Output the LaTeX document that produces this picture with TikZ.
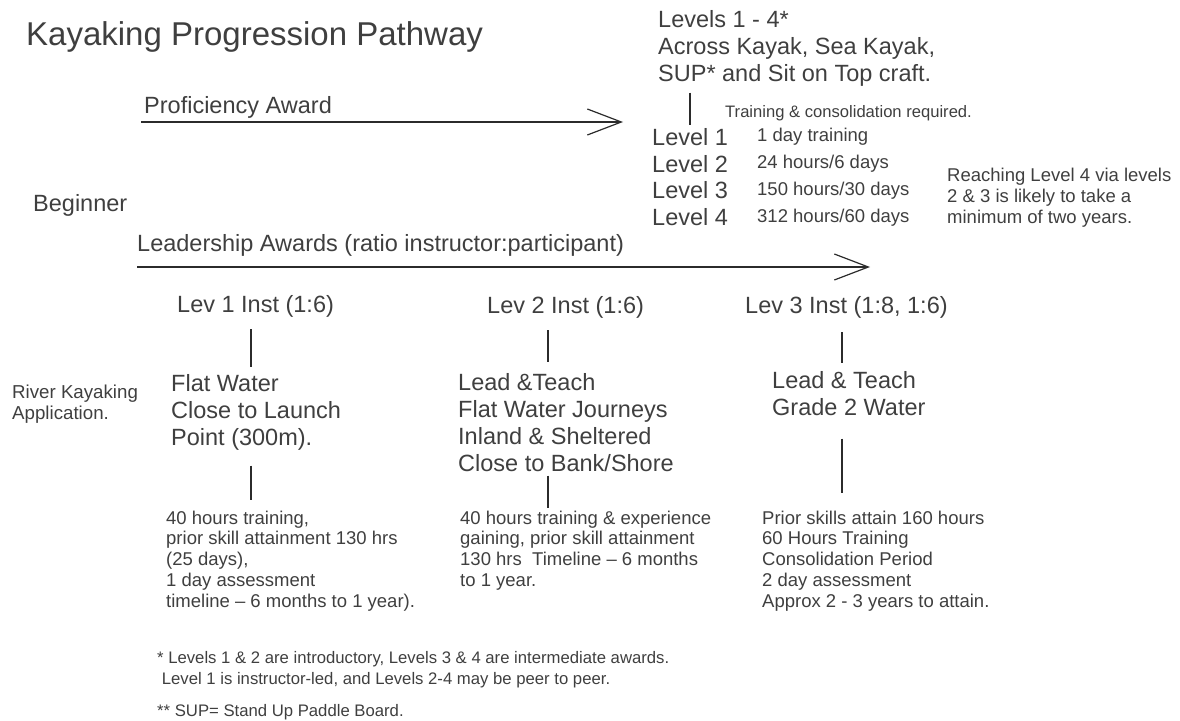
\documentclass[tikz,border=0pt]{standalone}
\usepackage{fontspec}
\setmainfont{Liberation Sans}
\definecolor{kpText}{HTML}{3F3F3F}
\definecolor{kpLine}{HTML}{2B2B2B}
\usetikzlibrary{arrows.meta}

\tikzset{
  kptext/.style={inner sep=0pt, text=kpText, align=left,
    execute at begin node=\strut, execute at end node=\strut},
  kpbig/.style={kptext, font=\fontsize{23.5}{27}\selectfont},
  kpsmall/.style={kptext, font=\fontsize{18.5}{20.8}\selectfont},
  kptiny/.style={kptext, font=\fontsize{16.6}{19}\selectfont},
  link/.style={draw=kpLine, line width=1.2pt},
  pathway/.style={link, -{Straight Barb[length=34pt, width=26pt]}}
}

\begin{document}
\begin{tikzpicture}[x=1pt, y=-1pt]
  \useasboundingbox (0,0) rectangle (1180,720);
  \coordinate (stem0) at (690,0);
  \coordinate (stem1) at (251,0);
  \coordinate (stem2) at (548,0);
  \coordinate (stem3) at (842,0);

  \node[kptext, font=\fontsize{33}{38}\selectfont, anchor=base west] (title) at (26,45) {Kayaking Progression Pathway};

  % proficiency route
  \node[kpbig, anchor=base west] (prof) at (144,113) {Proficiency Award};
  \coordinate (profstart) at (141,122);
  \coordinate (profend) at (623,122);
  \draw[pathway] (profstart) -- (profend);
  \node[kpbig, anchor=north west] (levels) at (658,10.1) {Levels 1 - 4*\\Across Kayak, Sea Kayak,\\SUP* and Sit on Top craft.};
  \node[kptiny, anchor=base west] (consol) at (725,117) {Training \& consolidation required.};
  \node[kpbig, font=\fontsize{23.5}{26.7}\selectfont, anchor=north west] (lvnames) at (652,128.3) {Level 1\\Level 2\\Level 3\\Level 4};
  \node[kpsmall, font=\fontsize{18.5}{26.7}\selectfont, anchor=north west] (lvhours) at (757,128.3) {1 day training\\24 hours/6 days\\150 hours/30 days\\312 hours/60 days};
  \draw[link, shorten <=3pt, shorten >=3pt] (levels.south -| stem0) -- (lvnames.north -| stem0);
  \node[kpsmall, font=\fontsize{18.5}{21}\selectfont, anchor=north west] (reach) at (947,168.3) {Reaching Level 4 via levels\\2 \& 3 is likely to take a\\minimum of two years.};

  % leadership route
  \node[kpbig, anchor=base west] (beginner) at (33,211) {Beginner};
  \node[kpbig, anchor=base west] (leader) at (137,251) {Leadership Awards (ratio instructor:participant)};
  \coordinate (leadstart) at (137,267);
  \coordinate (leadend) at (870,267);
  \draw[pathway] (leadstart) -- (leadend);

  \node[kpbig, anchor=base west] (inst1) at (177,312) {Lev 1 Inst (1:6)};
  \node[kpbig, anchor=base west] (inst2) at (487,313) {Lev 2 Inst (1:6)};
  \node[kpbig, anchor=base west] (inst3) at (745,313) {Lev 3 Inst (1:8, 1:6)};

  \node[kpsmall, font=\fontsize{18.7}{21}\selectfont, anchor=north west] (river) at (12,384.3) {River Kayaking\\Application.};
  \node[kpbig, anchor=north west] (water1) at (171,374.1) {Flat Water\\Close to Launch\\Point (300m).};
  \node[kpbig, anchor=north west] (water2) at (458,373.1) {Lead \&Teach\\Flat Water Journeys\\Inland \& Sheltered\\Close to Bank/Shore};
  \node[kpbig, anchor=north west] (water3) at (772,371.1) {Lead \& Teach\\Grade 2 Water};

  \node[kpsmall, anchor=north west] (train1) at (166,510.4) {40 hours training,\\prior skill attainment 130 hrs\\(25 days),\\1 day assessment\\timeline – 6 months to 1 year).};
  \node[kpsmall, anchor=north west] (train2) at (460,510.4) {40 hours training \& experience\\gaining, prior skill attainment\\130 hrs\ \ Timeline – 6 months\\to 1 year.};
  \node[kpsmall, anchor=north west] (train3) at (762,510.4) {Prior skills attain 160 hours\\60 Hours Training\\Consolidation Period\\2 day assessment\\Approx 2 - 3 years to attain.};

  \draw[link, shorten <=9pt, shorten >=7pt] (inst1.south -| stem1) -- (water1.north -| stem1);
  \draw[link, shorten <=12pt, shorten >=10pt] (water1.south -| stem1) -- (train1.north -| stem1);
  \draw[link, shorten <=9pt, shorten >=11pt] (inst2.south -| stem2) -- (water2.north -| stem2);
  \draw[link, shorten <=-4pt, shorten >=2pt] (water2.south -| stem2) -- (train2.north -| stem2);
  \draw[link, shorten <=11pt, shorten >=8pt] (inst3.south -| stem3) -- (water3.north -| stem3);
  \draw[link, shorten <=15pt, shorten >=17pt] (water3.south -| stem3) -- (train3.north -| stem3);

  % footnotes
  \node[kptext, font=\fontsize{16.7}{20.5}\selectfont, anchor=north west] (note1) at (157,651.6) {* Levels 1 \& 2 are introductory, Levels 3 \& 4 are intermediate awards.\\\ Level 1 is instructor-led, and Levels 2-4 may be peer to peer.};
  \node[kptext, font=\fontsize{16.7}{20.5}\selectfont, anchor=base west] (note2) at (157,716) {** SUP= Stand Up Paddle Board.};
\end{tikzpicture}
\end{document}
